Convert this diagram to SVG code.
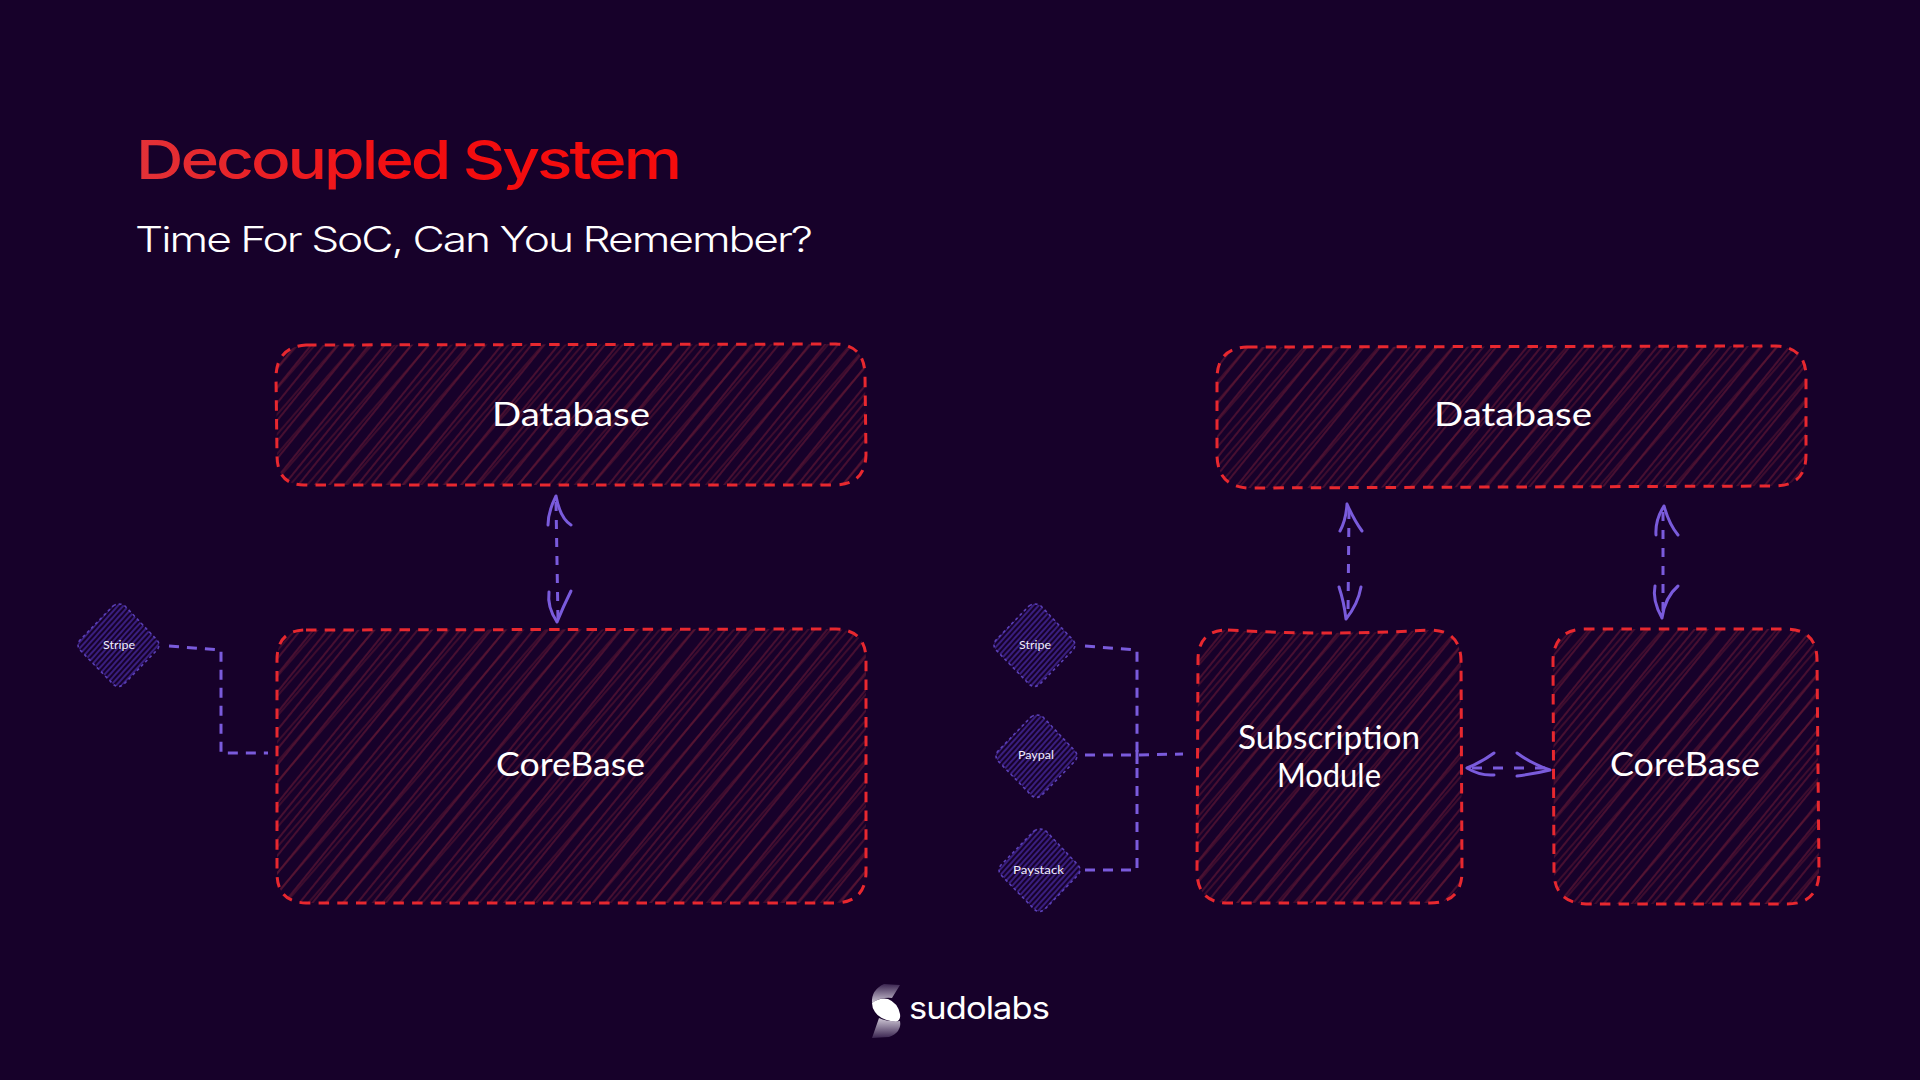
<svg xmlns="http://www.w3.org/2000/svg" xmlns:xlink="http://www.w3.org/1999/xlink" width="1920" height="1080" viewBox="0 0 1920 1080">
<style>
.box{stroke:#e8282f;stroke-width:3;stroke-dasharray:10.5 8.2;fill:none}
.h1{stroke:none;fill:url(#hr)}
.h2{stroke:none;fill:url(#hr2)}
.dia{stroke:#5a3fb5;stroke-width:1.6;stroke-dasharray:3 3;fill:url(#hp)}
.con{stroke:#7a5bdc;stroke-width:3;stroke-dasharray:10 8;fill:none}
.arr{stroke:#7a5bdc;stroke-width:3;fill:none;stroke-linecap:round;stroke-linejoin:round}
.das{stroke-dasharray:9 9;stroke-linecap:butt}
.lab{font-family:"Lato","Open Sans",sans-serif;fill:#fff;font-size:33px}
.sm{font-family:"Lato","Open Sans",sans-serif;fill:#f3eefc;font-size:12px}
</style>
<defs>
<linearGradient id="tg" x1="0" x2="1" y1="0" y2="0"><stop offset="0" stop-color="#e23238"/><stop offset="0.5" stop-color="#f30d10"/><stop offset="1" stop-color="#f50c0c"/></linearGradient>
<pattern id="hr" patternUnits="userSpaceOnUse" width="57" height="60" patternTransform="rotate(39)">
<path d="M3 0V60M13 0V60M24 0V60M37 0V60M48 0V60" stroke="#6e1a36" stroke-width="1.1" fill="none"/>
</pattern>
<pattern id="hr2" patternUnits="userSpaceOnUse" width="43" height="60" patternTransform="rotate(41)">
<path d="M8 0V60M21 0V60M34 0V60" stroke="#611731" stroke-width="1" fill="none"/>
</pattern>
<pattern id="hp" patternUnits="userSpaceOnUse" width="12" height="12" patternTransform="rotate(42)">
<path d="M1 0V12M5 0V12M9 0V12" stroke="#44289a" stroke-width="1.5" fill="none"/>
</pattern>
<linearGradient id="sa" x1="0" x2="0" y1="0" y2="1"><stop offset="0" stop-color="#3a2450"/><stop offset="1" stop-color="#cfc8d6"/></linearGradient>
<linearGradient id="sb" x1="0" x2="0" y1="0" y2="1"><stop offset="0" stop-color="#cfc8d6"/><stop offset="1" stop-color="#3a2450"/></linearGradient>
<path id="s1" d="M306 345L836 344Q865 345 865 376L866 455Q865 485 834 485L304 485Q277 485 277 455L276 376Q277 347 306 345Z"/>
<path id="s2" d="M306 630L836 629Q866 630 866 660L866 873Q865 903 834 903L306 903Q277 902 277 873L277 660Q277 630 306 630Z"/>
<path id="s3" d="M1247 347L1776 346Q1806 347 1806 377L1806 455Q1806 485 1776 486L1247 488Q1218 486 1217 456L1217 377Q1218 348 1247 347Z"/>
<path id="s4" d="M1228 630Q1330 636 1430 630Q1460 630 1461 660L1462 873Q1461 903 1430 903L1228 903Q1198 903 1197 873L1198 660Q1198 630 1228 630Z"/>
<path id="s5" d="M1584 629L1787 629Q1817 630 1817 660L1819 873Q1818 904 1787 904L1586 904Q1555 903 1554 873L1553 660Q1554 630 1584 629Z"/>
</defs>
<rect width="1920" height="1080" fill="#17012a"/>

<text id="title" x="136" y="179" font-family="Inter,sans-serif" font-weight="500" font-size="54" letter-spacing="-2.5" fill="url(#tg)" textLength="543" lengthAdjust="spacingAndGlyphs">Decoupled System</text>
<text id="subtitle" x="135" y="252" font-family="Inter,sans-serif" font-weight="300" font-size="35" letter-spacing="-1.6" fill="#fff" textLength="676" lengthAdjust="spacingAndGlyphs">Time For SoC, Can You Remember?</text>

<g id="connectors">
<path class="con" d="M169 646L221 650V753H268"/>
<path class="con" d="M1085 646L1137 650V764"/>
<path class="con" d="M1085 870L1137 870V746"/>
<path class="con" d="M1085 755L1137 755L1183 754"/>
<path class="arr das" d="M556 502L558 620"/>
<path class="arr" d="M556 496Q548 512 548 525M556 496Q560 518 571 525"/>
<path class="arr" d="M557 622Q547 607 549 592M557 622Q563 607 571 591"/>
<path class="arr das" d="M1349 510L1348 614"/>
<path class="arr" d="M1347 504Q1346 520 1340 531M1347 504Q1354 520 1362 531"/>
<path class="arr" d="M1346 619Q1344 602 1339 587M1346 619Q1358 604 1361 587"/>
<path class="arr das" d="M1663 512L1663 612"/>
<path class="arr" d="M1664 506Q1655 520 1656 535M1664 506Q1669 524 1678 535"/>
<path class="arr" d="M1662 618Q1652 600 1655 586M1662 618Q1665 597 1678 586"/>
<path class="arr das" d="M1472 768L1548 768" style="stroke-dasharray:10 11"/>
<path class="arr" d="M1467 768Q1482 762 1494 753M1467 768Q1480 776 1494 775"/>
<path class="arr" d="M1550 770Q1532 764 1517 753M1550 770Q1534 774 1517 776"/>
</g>

<g id="db-left">
<use xlink:href="#s1" class="h1"/><use xlink:href="#s1" class="h2"/><use xlink:href="#s1" class="box"/>
<text class="lab" x="492" y="426" textLength="158" lengthAdjust="spacingAndGlyphs">Database</text>
</g>
<g id="core-left">
<use xlink:href="#s2" class="h1"/><use xlink:href="#s2" class="h2"/><use xlink:href="#s2" class="box"/>
<text class="lab" x="496" y="776" textLength="149" lengthAdjust="spacingAndGlyphs">CoreBase</text>
</g>
<g id="db-right">
<use xlink:href="#s3" class="h1"/><use xlink:href="#s3" class="h2"/><use xlink:href="#s3" class="box"/>
<text class="lab" x="1434" y="426" textLength="158" lengthAdjust="spacingAndGlyphs">Database</text>
</g>
<g id="subscription">
<use xlink:href="#s4" class="h1"/><use xlink:href="#s4" class="h2"/><use xlink:href="#s4" class="box"/>
<text class="lab" x="1238" y="749" textLength="182" lengthAdjust="spacingAndGlyphs">Subscription</text>
<text class="lab" x="1277" y="787" textLength="104" lengthAdjust="spacingAndGlyphs">Module</text>
</g>
<g id="core-right">
<use xlink:href="#s5" class="h1"/><use xlink:href="#s5" class="h2"/><use xlink:href="#s5" class="box"/>
<text class="lab" x="1610" y="776" textLength="150" lengthAdjust="spacingAndGlyphs">CoreBase</text>
</g>

<g id="stripe-left">
<path class="dia" d="M113 606Q119 602 125 606L157 640Q161 645 157 650L124 684Q118 689 113 684L80 650Q76 645 80 640Z"/>
<text class="sm" x="103" y="649" textLength="32" lengthAdjust="spacingAndGlyphs">Stripe</text>
</g>
<g id="stripe-right">
<path class="dia" d="M1029 606Q1035 602 1041 606L1073 640Q1077 645 1073 650L1040 684Q1034 689 1029 684L996 650Q992 645 996 640Z"/>
<text class="sm" x="1019" y="649" textLength="32" lengthAdjust="spacingAndGlyphs">Stripe</text>
</g>
<g id="paypal">
<path class="dia" d="M1031 717Q1037 713 1043 717L1075 751Q1079 756 1075 761L1042 795Q1036 800 1031 795L998 761Q994 756 998 751Z"/>
<text class="sm" x="1018" y="759" textLength="36" lengthAdjust="spacingAndGlyphs">Paypal</text>
</g>
<g id="paystack">
<path class="dia" d="M1034 831Q1040 827 1046 831L1078 865Q1082 870 1078 875L1045 909Q1039 914 1034 909L1001 875Q997 870 1001 865Z"/>
<text class="sm" x="1013" y="874" textLength="51" lengthAdjust="spacingAndGlyphs">Paystack</text>
</g>

<g id="logo">
<path d="M884 984L900 985L892 998Q880 997 872 1003Q871 990 884 984Z" fill="url(#sa)"/>
<path d="M872 1003Q880 997 888 999Q898 1003 900 1014Q901 1020 896 1022Q880 1020 875 1012Q872 1008 872 1003Z" fill="#fff"/>
<path d="M879 1018Q888 1022 900 1021Q902 1032 889 1037L872 1038Z" fill="url(#sb)"/>
<text x="909" y="1019" font-family="Inter,sans-serif" font-weight="400" font-size="31" letter-spacing="-0.8" fill="#fff" textLength="140" lengthAdjust="spacingAndGlyphs">sudolabs</text>
</g>
</svg>
